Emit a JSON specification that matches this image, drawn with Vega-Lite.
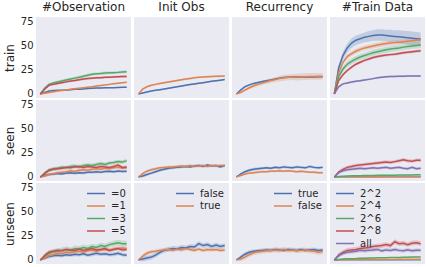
{
"$schema":"https://vega.github.io/schema/vega-lite/v6.json",
"padding":{"left":3,"top":0,"right":0,"bottom":0},
"background":"white",
"config":{
"font":"DejaVu Sans",
"view":{"fill":"#eaeaf2","stroke":null},
"axis":{"grid":false,"ticks":false,"domain":false,"labelColor":"#262626","titleColor":"#262626","labelFontSize":10,"titleFontSize":12,"titleFontWeight":"normal","labelPadding":3,"titlePadding":4},
"title":{"fontSize":12,"fontWeight":"normal","color":"#262626","offset":3},
"legend":{"symbolType":"M-1,0H3","symbolStrokeWidth":1.5,"symbolSize":81,"symbolOpacity":1,"labelFontSize":10,"labelColor":"#262626","padding":0,"rowPadding":1.5,"labelOffset":14,"offset":5}
},
"datasets":{"d":[
{"r":"t","c":"o","s":"=0","x":0,"y":0,"e":0},{"r":"t","c":"o","s":"=0","x":1,"y":1.5,"e":0.6},{"r":"t","c":"o","s":"=0","x":2,"y":3,"e":0.6},{"r":"t","c":"o","s":"=0","x":3,"y":3.5,"e":0.6},{"r":"t","c":"o","s":"=0","x":4,"y":3.8,"e":0.6},{"r":"t","c":"o","s":"=0","x":5,"y":4,"e":0.6},{"r":"t","c":"o","s":"=0","x":6,"y":4.2,"e":0.6},{"r":"t","c":"o","s":"=0","x":7,"y":4.5,"e":0.6},{"r":"t","c":"o","s":"=0","x":8,"y":4.8,"e":0.6},{"r":"t","c":"o","s":"=0","x":9,"y":5,"e":0.6},{"r":"t","c":"o","s":"=0","x":10,"y":5.3,"e":0.6},{"r":"t","c":"o","s":"=0","x":11,"y":5.6,"e":0.6},{"r":"t","c":"o","s":"=0","x":12,"y":6,"e":0.6},{"r":"t","c":"o","s":"=0","x":13,"y":6.2,"e":0.6},{"r":"t","c":"o","s":"=0","x":14,"y":6.3,"e":0.6},{"r":"t","c":"o","s":"=0","x":15,"y":6.4,"e":0.6},{"r":"t","c":"o","s":"=0","x":16,"y":6.5,"e":0.6},{"r":"t","c":"o","s":"=0","x":17,"y":6.6,"e":0.6},{"r":"t","c":"o","s":"=0","x":18,"y":6.8,"e":0.6},{"r":"t","c":"o","s":"=0","x":19,"y":7,"e":0.6},{"r":"t","c":"o","s":"=0","x":20,"y":7,"e":0.6},
{"r":"t","c":"o","s":"=1","x":0,"y":0,"e":0},{"r":"t","c":"o","s":"=1","x":1,"y":0.8,"e":0.8},{"r":"t","c":"o","s":"=1","x":2,"y":1.5,"e":0.8},{"r":"t","c":"o","s":"=1","x":3,"y":2.2,"e":0.8},{"r":"t","c":"o","s":"=1","x":4,"y":3,"e":0.8},{"r":"t","c":"o","s":"=1","x":5,"y":3.6,"e":0.8},{"r":"t","c":"o","s":"=1","x":6,"y":4.2,"e":0.8},{"r":"t","c":"o","s":"=1","x":7,"y":4.8,"e":0.8},{"r":"t","c":"o","s":"=1","x":8,"y":5.4,"e":0.8},{"r":"t","c":"o","s":"=1","x":9,"y":6,"e":0.8},{"r":"t","c":"o","s":"=1","x":10,"y":6.5,"e":0.8},{"r":"t","c":"o","s":"=1","x":11,"y":7,"e":0.8},{"r":"t","c":"o","s":"=1","x":12,"y":7.6,"e":0.8},{"r":"t","c":"o","s":"=1","x":13,"y":8.2,"e":0.8},{"r":"t","c":"o","s":"=1","x":14,"y":8.8,"e":0.8},{"r":"t","c":"o","s":"=1","x":15,"y":9.4,"e":0.8},{"r":"t","c":"o","s":"=1","x":16,"y":10,"e":0.8},{"r":"t","c":"o","s":"=1","x":17,"y":10.6,"e":0.8},{"r":"t","c":"o","s":"=1","x":18,"y":11.2,"e":0.8},{"r":"t","c":"o","s":"=1","x":19,"y":11.8,"e":0.8},{"r":"t","c":"o","s":"=1","x":20,"y":12.3,"e":0.8},
{"r":"t","c":"o","s":"=3","x":0,"y":0,"e":0},{"r":"t","c":"o","s":"=3","x":1,"y":6,"e":1.5},{"r":"t","c":"o","s":"=3","x":2,"y":10,"e":1.5},{"r":"t","c":"o","s":"=3","x":3,"y":11.5,"e":1.5},{"r":"t","c":"o","s":"=3","x":4,"y":12.5,"e":1.5},{"r":"t","c":"o","s":"=3","x":5,"y":13.5,"e":1.5},{"r":"t","c":"o","s":"=3","x":6,"y":14.5,"e":1.5},{"r":"t","c":"o","s":"=3","x":7,"y":15.5,"e":1.5},{"r":"t","c":"o","s":"=3","x":8,"y":16.5,"e":1.5},{"r":"t","c":"o","s":"=3","x":9,"y":17.5,"e":1.5},{"r":"t","c":"o","s":"=3","x":10,"y":18.5,"e":1.5},{"r":"t","c":"o","s":"=3","x":11,"y":19.5,"e":1.5},{"r":"t","c":"o","s":"=3","x":12,"y":20.5,"e":1.5},{"r":"t","c":"o","s":"=3","x":13,"y":21,"e":1.5},{"r":"t","c":"o","s":"=3","x":14,"y":21.3,"e":1.5},{"r":"t","c":"o","s":"=3","x":15,"y":21.8,"e":1.5},{"r":"t","c":"o","s":"=3","x":16,"y":22,"e":1.5},{"r":"t","c":"o","s":"=3","x":17,"y":22.2,"e":1.5},{"r":"t","c":"o","s":"=3","x":18,"y":22.5,"e":1.5},{"r":"t","c":"o","s":"=3","x":19,"y":23,"e":1.5},{"r":"t","c":"o","s":"=3","x":20,"y":23.2,"e":1.5},
{"r":"t","c":"o","s":"=5","x":0,"y":0,"e":0},{"r":"t","c":"o","s":"=5","x":1,"y":5,"e":1.2},{"r":"t","c":"o","s":"=5","x":2,"y":9,"e":1.2},{"r":"t","c":"o","s":"=5","x":3,"y":10,"e":1.2},{"r":"t","c":"o","s":"=5","x":4,"y":11,"e":1.2},{"r":"t","c":"o","s":"=5","x":5,"y":11.8,"e":1.2},{"r":"t","c":"o","s":"=5","x":6,"y":12.6,"e":1.2},{"r":"t","c":"o","s":"=5","x":7,"y":13.4,"e":1.2},{"r":"t","c":"o","s":"=5","x":8,"y":14,"e":1.2},{"r":"t","c":"o","s":"=5","x":9,"y":14.8,"e":1.2},{"r":"t","c":"o","s":"=5","x":10,"y":15.5,"e":1.2},{"r":"t","c":"o","s":"=5","x":11,"y":16,"e":1.2},{"r":"t","c":"o","s":"=5","x":12,"y":16.5,"e":1.2},{"r":"t","c":"o","s":"=5","x":13,"y":16.8,"e":1.2},{"r":"t","c":"o","s":"=5","x":14,"y":17,"e":1.2},{"r":"t","c":"o","s":"=5","x":15,"y":17.3,"e":1.2},{"r":"t","c":"o","s":"=5","x":16,"y":17.5,"e":1.2},{"r":"t","c":"o","s":"=5","x":17,"y":17.8,"e":1.2},{"r":"t","c":"o","s":"=5","x":18,"y":18,"e":1.2},{"r":"t","c":"o","s":"=5","x":19,"y":18.2,"e":1.2},{"r":"t","c":"o","s":"=5","x":20,"y":18.3,"e":1.2},
{"r":"t","c":"i","s":"false","x":0,"y":0,"e":0},{"r":"t","c":"i","s":"false","x":1,"y":1,"e":0.8},{"r":"t","c":"i","s":"false","x":2,"y":2,"e":0.8},{"r":"t","c":"i","s":"false","x":3,"y":3,"e":0.8},{"r":"t","c":"i","s":"false","x":4,"y":3.8,"e":0.8},{"r":"t","c":"i","s":"false","x":5,"y":4.5,"e":0.8},{"r":"t","c":"i","s":"false","x":6,"y":5.2,"e":0.8},{"r":"t","c":"i","s":"false","x":7,"y":6,"e":0.8},{"r":"t","c":"i","s":"false","x":8,"y":6.8,"e":0.8},{"r":"t","c":"i","s":"false","x":9,"y":7.5,"e":0.8},{"r":"t","c":"i","s":"false","x":10,"y":8.3,"e":0.8},{"r":"t","c":"i","s":"false","x":11,"y":9,"e":0.8},{"r":"t","c":"i","s":"false","x":12,"y":9.8,"e":0.8},{"r":"t","c":"i","s":"false","x":13,"y":10.5,"e":0.8},{"r":"t","c":"i","s":"false","x":14,"y":11.2,"e":0.8},{"r":"t","c":"i","s":"false","x":15,"y":11.8,"e":0.8},{"r":"t","c":"i","s":"false","x":16,"y":12.5,"e":0.8},{"r":"t","c":"i","s":"false","x":17,"y":13.2,"e":0.8},{"r":"t","c":"i","s":"false","x":18,"y":13.8,"e":0.8},{"r":"t","c":"i","s":"false","x":19,"y":14.4,"e":0.8},{"r":"t","c":"i","s":"false","x":20,"y":15,"e":0.8},
{"r":"t","c":"i","s":"true","x":0,"y":0,"e":0},{"r":"t","c":"i","s":"true","x":1,"y":5,"e":1},{"r":"t","c":"i","s":"true","x":2,"y":7.5,"e":1},{"r":"t","c":"i","s":"true","x":3,"y":9,"e":1},{"r":"t","c":"i","s":"true","x":4,"y":10,"e":1},{"r":"t","c":"i","s":"true","x":5,"y":11,"e":1},{"r":"t","c":"i","s":"true","x":6,"y":11.8,"e":1},{"r":"t","c":"i","s":"true","x":7,"y":12.5,"e":1},{"r":"t","c":"i","s":"true","x":8,"y":13.2,"e":1},{"r":"t","c":"i","s":"true","x":9,"y":14,"e":1},{"r":"t","c":"i","s":"true","x":10,"y":14.8,"e":1},{"r":"t","c":"i","s":"true","x":11,"y":15.5,"e":1},{"r":"t","c":"i","s":"true","x":12,"y":16.2,"e":1},{"r":"t","c":"i","s":"true","x":13,"y":16.8,"e":1},{"r":"t","c":"i","s":"true","x":14,"y":17.3,"e":1},{"r":"t","c":"i","s":"true","x":15,"y":17.7,"e":1},{"r":"t","c":"i","s":"true","x":16,"y":18,"e":1},{"r":"t","c":"i","s":"true","x":17,"y":18.2,"e":1},{"r":"t","c":"i","s":"true","x":18,"y":18.4,"e":1},{"r":"t","c":"i","s":"true","x":19,"y":18.5,"e":1},{"r":"t","c":"i","s":"true","x":20,"y":18.6,"e":1},
{"r":"t","c":"r","s":"true","x":0,"y":0,"e":0},{"r":"t","c":"r","s":"true","x":1,"y":4,"e":0.8},{"r":"t","c":"r","s":"true","x":2,"y":7.5,"e":0.8},{"r":"t","c":"r","s":"true","x":3,"y":9.5,"e":0.8},{"r":"t","c":"r","s":"true","x":4,"y":11,"e":0.8},{"r":"t","c":"r","s":"true","x":5,"y":12,"e":0.8},{"r":"t","c":"r","s":"true","x":6,"y":13,"e":0.8},{"r":"t","c":"r","s":"true","x":7,"y":13.8,"e":0.8},{"r":"t","c":"r","s":"true","x":8,"y":14.6,"e":0.8},{"r":"t","c":"r","s":"true","x":9,"y":15.5,"e":0.8},{"r":"t","c":"r","s":"true","x":10,"y":16.5,"e":0.8},{"r":"t","c":"r","s":"true","x":11,"y":17.2,"e":0.8},{"r":"t","c":"r","s":"true","x":12,"y":17.5,"e":0.8},{"r":"t","c":"r","s":"true","x":13,"y":17.6,"e":0.8},{"r":"t","c":"r","s":"true","x":14,"y":17.7,"e":0.8},{"r":"t","c":"r","s":"true","x":15,"y":17.7,"e":0.8},{"r":"t","c":"r","s":"true","x":16,"y":17.8,"e":0.8},{"r":"t","c":"r","s":"true","x":17,"y":17.8,"e":0.8},{"r":"t","c":"r","s":"true","x":18,"y":17.8,"e":0.8},{"r":"t","c":"r","s":"true","x":19,"y":17.9,"e":0.8},{"r":"t","c":"r","s":"true","x":20,"y":17.9,"e":0.8},
{"r":"t","c":"r","s":"false","x":0,"y":0,"e":0.3},{"r":"t","c":"r","s":"false","x":1,"y":1.5,"e":1},{"r":"t","c":"r","s":"false","x":2,"y":4,"e":1.5},{"r":"t","c":"r","s":"false","x":3,"y":6.5,"e":1.5},{"r":"t","c":"r","s":"false","x":4,"y":8.5,"e":2},{"r":"t","c":"r","s":"false","x":5,"y":10,"e":2},{"r":"t","c":"r","s":"false","x":6,"y":11.5,"e":2},{"r":"t","c":"r","s":"false","x":7,"y":12.8,"e":2.5},{"r":"t","c":"r","s":"false","x":8,"y":14,"e":2.5},{"r":"t","c":"r","s":"false","x":9,"y":15,"e":2.5},{"r":"t","c":"r","s":"false","x":10,"y":16,"e":3},{"r":"t","c":"r","s":"false","x":11,"y":16.8,"e":3},{"r":"t","c":"r","s":"false","x":12,"y":17.3,"e":3},{"r":"t","c":"r","s":"false","x":13,"y":17.5,"e":3},{"r":"t","c":"r","s":"false","x":14,"y":17.6,"e":3.5},{"r":"t","c":"r","s":"false","x":15,"y":17.8,"e":3.5},{"r":"t","c":"r","s":"false","x":16,"y":18,"e":3.5},{"r":"t","c":"r","s":"false","x":17,"y":18.2,"e":3.5},{"r":"t","c":"r","s":"false","x":18,"y":18.3,"e":3.5},{"r":"t","c":"r","s":"false","x":19,"y":18.4,"e":3.5},{"r":"t","c":"r","s":"false","x":20,"y":18.5,"e":3.5},
{"r":"t","c":"d","s":"2^2","x":0,"y":0,"e":0.5},{"r":"t","c":"d","s":"2^2","x":1,"y":27,"e":3},{"r":"t","c":"d","s":"2^2","x":2,"y":40,"e":4},{"r":"t","c":"d","s":"2^2","x":3,"y":48,"e":4.5},{"r":"t","c":"d","s":"2^2","x":4,"y":53,"e":5},{"r":"t","c":"d","s":"2^2","x":5,"y":56,"e":5},{"r":"t","c":"d","s":"2^2","x":6,"y":57.5,"e":5},{"r":"t","c":"d","s":"2^2","x":7,"y":59,"e":5},{"r":"t","c":"d","s":"2^2","x":8,"y":60,"e":5.5},{"r":"t","c":"d","s":"2^2","x":9,"y":61,"e":5.5},{"r":"t","c":"d","s":"2^2","x":10,"y":61.5,"e":6},{"r":"t","c":"d","s":"2^2","x":11,"y":61.5,"e":6},{"r":"t","c":"d","s":"2^2","x":12,"y":61,"e":6},{"r":"t","c":"d","s":"2^2","x":13,"y":60.5,"e":6.5},{"r":"t","c":"d","s":"2^2","x":14,"y":60,"e":6.5},{"r":"t","c":"d","s":"2^2","x":15,"y":59.5,"e":7},{"r":"t","c":"d","s":"2^2","x":16,"y":59,"e":7},{"r":"t","c":"d","s":"2^2","x":17,"y":58.5,"e":7},{"r":"t","c":"d","s":"2^2","x":18,"y":58,"e":7},{"r":"t","c":"d","s":"2^2","x":19,"y":57.5,"e":7},{"r":"t","c":"d","s":"2^2","x":20,"y":57,"e":7},
{"r":"t","c":"d","s":"2^4","x":0,"y":0,"e":0.5},{"r":"t","c":"d","s":"2^4","x":1,"y":22,"e":2.5},{"r":"t","c":"d","s":"2^4","x":2,"y":33,"e":2.5},{"r":"t","c":"d","s":"2^4","x":3,"y":39,"e":2.5},{"r":"t","c":"d","s":"2^4","x":4,"y":42,"e":2.5},{"r":"t","c":"d","s":"2^4","x":5,"y":44.5,"e":2.5},{"r":"t","c":"d","s":"2^4","x":6,"y":46.5,"e":2.5},{"r":"t","c":"d","s":"2^4","x":7,"y":48,"e":2.5},{"r":"t","c":"d","s":"2^4","x":8,"y":49,"e":2.5},{"r":"t","c":"d","s":"2^4","x":9,"y":50,"e":2.5},{"r":"t","c":"d","s":"2^4","x":10,"y":51,"e":2.5},{"r":"t","c":"d","s":"2^4","x":11,"y":51.8,"e":2.5},{"r":"t","c":"d","s":"2^4","x":12,"y":52.5,"e":2.5},{"r":"t","c":"d","s":"2^4","x":13,"y":53,"e":2.5},{"r":"t","c":"d","s":"2^4","x":14,"y":53.5,"e":2.5},{"r":"t","c":"d","s":"2^4","x":15,"y":54,"e":2.5},{"r":"t","c":"d","s":"2^4","x":16,"y":54.5,"e":2.5},{"r":"t","c":"d","s":"2^4","x":17,"y":55,"e":2.5},{"r":"t","c":"d","s":"2^4","x":18,"y":55.5,"e":2.5},{"r":"t","c":"d","s":"2^4","x":19,"y":56,"e":2.5},{"r":"t","c":"d","s":"2^4","x":20,"y":56.3,"e":2.5},
{"r":"t","c":"d","s":"2^6","x":0,"y":0,"e":0.5},{"r":"t","c":"d","s":"2^6","x":1,"y":18,"e":3},{"r":"t","c":"d","s":"2^6","x":2,"y":26,"e":3},{"r":"t","c":"d","s":"2^6","x":3,"y":31,"e":3},{"r":"t","c":"d","s":"2^6","x":4,"y":34,"e":3},{"r":"t","c":"d","s":"2^6","x":5,"y":36.5,"e":3},{"r":"t","c":"d","s":"2^6","x":6,"y":38.5,"e":3},{"r":"t","c":"d","s":"2^6","x":7,"y":40,"e":3},{"r":"t","c":"d","s":"2^6","x":8,"y":41.5,"e":3},{"r":"t","c":"d","s":"2^6","x":9,"y":43,"e":3},{"r":"t","c":"d","s":"2^6","x":10,"y":44,"e":3},{"r":"t","c":"d","s":"2^6","x":11,"y":45,"e":3},{"r":"t","c":"d","s":"2^6","x":12,"y":46,"e":3},{"r":"t","c":"d","s":"2^6","x":13,"y":46.8,"e":3},{"r":"t","c":"d","s":"2^6","x":14,"y":47.5,"e":3},{"r":"t","c":"d","s":"2^6","x":15,"y":48,"e":3},{"r":"t","c":"d","s":"2^6","x":16,"y":48.8,"e":3},{"r":"t","c":"d","s":"2^6","x":17,"y":49.5,"e":3},{"r":"t","c":"d","s":"2^6","x":18,"y":50,"e":3},{"r":"t","c":"d","s":"2^6","x":19,"y":50.5,"e":3},{"r":"t","c":"d","s":"2^6","x":20,"y":51,"e":3},
{"r":"t","c":"d","s":"2^8","x":0,"y":0,"e":0.5},{"r":"t","c":"d","s":"2^8","x":1,"y":14,"e":1.5},{"r":"t","c":"d","s":"2^8","x":2,"y":20,"e":1.5},{"r":"t","c":"d","s":"2^8","x":3,"y":24.5,"e":1.5},{"r":"t","c":"d","s":"2^8","x":4,"y":28,"e":1.5},{"r":"t","c":"d","s":"2^8","x":5,"y":31,"e":1.5},{"r":"t","c":"d","s":"2^8","x":6,"y":33,"e":1.5},{"r":"t","c":"d","s":"2^8","x":7,"y":35,"e":1.5},{"r":"t","c":"d","s":"2^8","x":8,"y":36.5,"e":1.5},{"r":"t","c":"d","s":"2^8","x":9,"y":38,"e":1.5},{"r":"t","c":"d","s":"2^8","x":10,"y":39,"e":1.5},{"r":"t","c":"d","s":"2^8","x":11,"y":39.8,"e":1.5},{"r":"t","c":"d","s":"2^8","x":12,"y":40.5,"e":1.5},{"r":"t","c":"d","s":"2^8","x":13,"y":41,"e":1.5},{"r":"t","c":"d","s":"2^8","x":14,"y":41.5,"e":1.5},{"r":"t","c":"d","s":"2^8","x":15,"y":42.2,"e":1.5},{"r":"t","c":"d","s":"2^8","x":16,"y":43,"e":1.5},{"r":"t","c":"d","s":"2^8","x":17,"y":43.5,"e":1.5},{"r":"t","c":"d","s":"2^8","x":18,"y":44,"e":1.5},{"r":"t","c":"d","s":"2^8","x":19,"y":44.5,"e":1.5},{"r":"t","c":"d","s":"2^8","x":20,"y":45,"e":1.5},
{"r":"t","c":"d","s":"all","x":0,"y":0,"e":0.3},{"r":"t","c":"d","s":"all","x":1,"y":7.5,"e":1},{"r":"t","c":"d","s":"all","x":2,"y":10.5,"e":1},{"r":"t","c":"d","s":"all","x":3,"y":11.5,"e":1},{"r":"t","c":"d","s":"all","x":4,"y":12.5,"e":1},{"r":"t","c":"d","s":"all","x":5,"y":13.2,"e":1},{"r":"t","c":"d","s":"all","x":6,"y":13.8,"e":1},{"r":"t","c":"d","s":"all","x":7,"y":14.5,"e":1},{"r":"t","c":"d","s":"all","x":8,"y":15.2,"e":1},{"r":"t","c":"d","s":"all","x":9,"y":16,"e":1},{"r":"t","c":"d","s":"all","x":10,"y":17,"e":1},{"r":"t","c":"d","s":"all","x":11,"y":17.5,"e":1},{"r":"t","c":"d","s":"all","x":12,"y":18,"e":1},{"r":"t","c":"d","s":"all","x":13,"y":18.2,"e":1},{"r":"t","c":"d","s":"all","x":14,"y":18.3,"e":1},{"r":"t","c":"d","s":"all","x":15,"y":18.4,"e":1},{"r":"t","c":"d","s":"all","x":16,"y":18.5,"e":1},{"r":"t","c":"d","s":"all","x":17,"y":18.6,"e":1},{"r":"t","c":"d","s":"all","x":18,"y":18.6,"e":1},{"r":"t","c":"d","s":"all","x":19,"y":18.7,"e":1},{"r":"t","c":"d","s":"all","x":20,"y":18.7,"e":1},
{"r":"s","c":"o","s":"=0","x":0,"y":0,"e":0},{"r":"s","c":"o","s":"=0","x":1,"y":1.5,"e":1.5},{"r":"s","c":"o","s":"=0","x":2,"y":2.5,"e":1.5},{"r":"s","c":"o","s":"=0","x":3,"y":3,"e":1.5},{"r":"s","c":"o","s":"=0","x":4,"y":3.5,"e":1.5},{"r":"s","c":"o","s":"=0","x":5,"y":3.2,"e":1.5},{"r":"s","c":"o","s":"=0","x":6,"y":4,"e":1.5},{"r":"s","c":"o","s":"=0","x":7,"y":4.3,"e":1.5},{"r":"s","c":"o","s":"=0","x":8,"y":3.8,"e":1.5},{"r":"s","c":"o","s":"=0","x":9,"y":4.5,"e":1.5},{"r":"s","c":"o","s":"=0","x":10,"y":4.2,"e":1.5},{"r":"s","c":"o","s":"=0","x":11,"y":5,"e":1.5},{"r":"s","c":"o","s":"=0","x":12,"y":4.8,"e":1.5},{"r":"s","c":"o","s":"=0","x":13,"y":5.5,"e":1.5},{"r":"s","c":"o","s":"=0","x":14,"y":5,"e":1.5},{"r":"s","c":"o","s":"=0","x":15,"y":5.8,"e":1.5},{"r":"s","c":"o","s":"=0","x":16,"y":6,"e":1.5},{"r":"s","c":"o","s":"=0","x":17,"y":5.5,"e":1.5},{"r":"s","c":"o","s":"=0","x":18,"y":6.2,"e":1.5},{"r":"s","c":"o","s":"=0","x":19,"y":5.8,"e":1.5},{"r":"s","c":"o","s":"=0","x":20,"y":6,"e":1.5},
{"r":"s","c":"o","s":"=1","x":0,"y":0,"e":0},{"r":"s","c":"o","s":"=1","x":1,"y":1,"e":1.5},{"r":"s","c":"o","s":"=1","x":2,"y":2.5,"e":1.5},{"r":"s","c":"o","s":"=1","x":3,"y":3.5,"e":1.5},{"r":"s","c":"o","s":"=1","x":4,"y":4.5,"e":1.5},{"r":"s","c":"o","s":"=1","x":5,"y":5,"e":1.5},{"r":"s","c":"o","s":"=1","x":6,"y":5.5,"e":1.5},{"r":"s","c":"o","s":"=1","x":7,"y":6.5,"e":1.5},{"r":"s","c":"o","s":"=1","x":8,"y":6,"e":1.5},{"r":"s","c":"o","s":"=1","x":9,"y":7,"e":1.5},{"r":"s","c":"o","s":"=1","x":10,"y":7.5,"e":1.5},{"r":"s","c":"o","s":"=1","x":11,"y":7,"e":1.5},{"r":"s","c":"o","s":"=1","x":12,"y":8,"e":1.5},{"r":"s","c":"o","s":"=1","x":13,"y":8.5,"e":1.5},{"r":"s","c":"o","s":"=1","x":14,"y":8,"e":1.5},{"r":"s","c":"o","s":"=1","x":15,"y":9,"e":1.5},{"r":"s","c":"o","s":"=1","x":16,"y":8.5,"e":1.5},{"r":"s","c":"o","s":"=1","x":17,"y":9.5,"e":1.5},{"r":"s","c":"o","s":"=1","x":18,"y":10,"e":1.5},{"r":"s","c":"o","s":"=1","x":19,"y":9,"e":1.5},{"r":"s","c":"o","s":"=1","x":20,"y":9.5,"e":1.5},
{"r":"s","c":"o","s":"=3","x":0,"y":0,"e":0},{"r":"s","c":"o","s":"=3","x":1,"y":4,"e":2},{"r":"s","c":"o","s":"=3","x":2,"y":7,"e":2},{"r":"s","c":"o","s":"=3","x":3,"y":8.5,"e":2},{"r":"s","c":"o","s":"=3","x":4,"y":9,"e":2},{"r":"s","c":"o","s":"=3","x":5,"y":10,"e":2},{"r":"s","c":"o","s":"=3","x":6,"y":9.5,"e":2},{"r":"s","c":"o","s":"=3","x":7,"y":11,"e":2},{"r":"s","c":"o","s":"=3","x":8,"y":11.5,"e":2},{"r":"s","c":"o","s":"=3","x":9,"y":10.5,"e":2},{"r":"s","c":"o","s":"=3","x":10,"y":12,"e":2},{"r":"s","c":"o","s":"=3","x":11,"y":12.5,"e":2},{"r":"s","c":"o","s":"=3","x":12,"y":12,"e":2},{"r":"s","c":"o","s":"=3","x":13,"y":13,"e":2},{"r":"s","c":"o","s":"=3","x":14,"y":14,"e":2},{"r":"s","c":"o","s":"=3","x":15,"y":13,"e":2},{"r":"s","c":"o","s":"=3","x":16,"y":14.5,"e":2},{"r":"s","c":"o","s":"=3","x":17,"y":15,"e":2},{"r":"s","c":"o","s":"=3","x":18,"y":16,"e":2},{"r":"s","c":"o","s":"=3","x":19,"y":15.5,"e":2},{"r":"s","c":"o","s":"=3","x":20,"y":17,"e":2},
{"r":"s","c":"o","s":"=5","x":0,"y":0,"e":0},{"r":"s","c":"o","s":"=5","x":1,"y":3.5,"e":1.8},{"r":"s","c":"o","s":"=5","x":2,"y":7,"e":1.8},{"r":"s","c":"o","s":"=5","x":3,"y":8,"e":1.8},{"r":"s","c":"o","s":"=5","x":4,"y":8.5,"e":1.8},{"r":"s","c":"o","s":"=5","x":5,"y":9,"e":1.8},{"r":"s","c":"o","s":"=5","x":6,"y":10,"e":1.8},{"r":"s","c":"o","s":"=5","x":7,"y":9.5,"e":1.8},{"r":"s","c":"o","s":"=5","x":8,"y":10.5,"e":1.8},{"r":"s","c":"o","s":"=5","x":9,"y":11,"e":1.8},{"r":"s","c":"o","s":"=5","x":10,"y":10,"e":1.8},{"r":"s","c":"o","s":"=5","x":11,"y":11,"e":1.8},{"r":"s","c":"o","s":"=5","x":12,"y":10.5,"e":1.8},{"r":"s","c":"o","s":"=5","x":13,"y":10,"e":1.8},{"r":"s","c":"o","s":"=5","x":14,"y":11,"e":1.8},{"r":"s","c":"o","s":"=5","x":15,"y":10.5,"e":1.8},{"r":"s","c":"o","s":"=5","x":16,"y":10,"e":1.8},{"r":"s","c":"o","s":"=5","x":17,"y":11,"e":1.8},{"r":"s","c":"o","s":"=5","x":18,"y":12.5,"e":1.8},{"r":"s","c":"o","s":"=5","x":19,"y":10,"e":1.8},{"r":"s","c":"o","s":"=5","x":20,"y":10.5,"e":1.8},
{"r":"s","c":"i","s":"false","x":0,"y":0,"e":0},{"r":"s","c":"i","s":"false","x":1,"y":1,"e":1.5},{"r":"s","c":"i","s":"false","x":2,"y":2.5,"e":1.5},{"r":"s","c":"i","s":"false","x":3,"y":4,"e":1.5},{"r":"s","c":"i","s":"false","x":4,"y":5.5,"e":1.5},{"r":"s","c":"i","s":"false","x":5,"y":7,"e":1.5},{"r":"s","c":"i","s":"false","x":6,"y":8,"e":1.5},{"r":"s","c":"i","s":"false","x":7,"y":9,"e":1.5},{"r":"s","c":"i","s":"false","x":8,"y":9.5,"e":1.5},{"r":"s","c":"i","s":"false","x":9,"y":10,"e":1.5},{"r":"s","c":"i","s":"false","x":10,"y":10.5,"e":1.5},{"r":"s","c":"i","s":"false","x":11,"y":11,"e":1.5},{"r":"s","c":"i","s":"false","x":12,"y":10.5,"e":1.5},{"r":"s","c":"i","s":"false","x":13,"y":11.5,"e":1.5},{"r":"s","c":"i","s":"false","x":14,"y":12,"e":1.5},{"r":"s","c":"i","s":"false","x":15,"y":11,"e":1.5},{"r":"s","c":"i","s":"false","x":16,"y":12.5,"e":1.5},{"r":"s","c":"i","s":"false","x":17,"y":11.5,"e":1.5},{"r":"s","c":"i","s":"false","x":18,"y":12,"e":1.5},{"r":"s","c":"i","s":"false","x":19,"y":10.5,"e":1.5},{"r":"s","c":"i","s":"false","x":20,"y":12,"e":1.5},
{"r":"s","c":"i","s":"true","x":0,"y":0,"e":0},{"r":"s","c":"i","s":"true","x":1,"y":3.5,"e":1.5},{"r":"s","c":"i","s":"true","x":2,"y":6,"e":1.5},{"r":"s","c":"i","s":"true","x":3,"y":7.5,"e":1.5},{"r":"s","c":"i","s":"true","x":4,"y":8.5,"e":1.5},{"r":"s","c":"i","s":"true","x":5,"y":9.5,"e":1.5},{"r":"s","c":"i","s":"true","x":6,"y":10,"e":1.5},{"r":"s","c":"i","s":"true","x":7,"y":10.5,"e":1.5},{"r":"s","c":"i","s":"true","x":8,"y":10.5,"e":1.5},{"r":"s","c":"i","s":"true","x":9,"y":11,"e":1.5},{"r":"s","c":"i","s":"true","x":10,"y":11.5,"e":1.5},{"r":"s","c":"i","s":"true","x":11,"y":11,"e":1.5},{"r":"s","c":"i","s":"true","x":12,"y":12,"e":1.5},{"r":"s","c":"i","s":"true","x":13,"y":11,"e":1.5},{"r":"s","c":"i","s":"true","x":14,"y":11.5,"e":1.5},{"r":"s","c":"i","s":"true","x":15,"y":12,"e":1.5},{"r":"s","c":"i","s":"true","x":16,"y":11,"e":1.5},{"r":"s","c":"i","s":"true","x":17,"y":12,"e":1.5},{"r":"s","c":"i","s":"true","x":18,"y":11.5,"e":1.5},{"r":"s","c":"i","s":"true","x":19,"y":12,"e":1.5},{"r":"s","c":"i","s":"true","x":20,"y":12,"e":1.5},
{"r":"s","c":"r","s":"true","x":0,"y":0,"e":0},{"r":"s","c":"r","s":"true","x":1,"y":3,"e":1.5},{"r":"s","c":"r","s":"true","x":2,"y":5.5,"e":1.5},{"r":"s","c":"r","s":"true","x":3,"y":7,"e":1.5},{"r":"s","c":"r","s":"true","x":4,"y":8,"e":1.5},{"r":"s","c":"r","s":"true","x":5,"y":8.5,"e":1.5},{"r":"s","c":"r","s":"true","x":6,"y":9,"e":1.5},{"r":"s","c":"r","s":"true","x":7,"y":9.5,"e":1.5},{"r":"s","c":"r","s":"true","x":8,"y":9,"e":1.5},{"r":"s","c":"r","s":"true","x":9,"y":10,"e":1.5},{"r":"s","c":"r","s":"true","x":10,"y":9.5,"e":1.5},{"r":"s","c":"r","s":"true","x":11,"y":10.5,"e":1.5},{"r":"s","c":"r","s":"true","x":12,"y":10,"e":1.5},{"r":"s","c":"r","s":"true","x":13,"y":9.5,"e":1.5},{"r":"s","c":"r","s":"true","x":14,"y":10.5,"e":1.5},{"r":"s","c":"r","s":"true","x":15,"y":10,"e":1.5},{"r":"s","c":"r","s":"true","x":16,"y":9.5,"e":1.5},{"r":"s","c":"r","s":"true","x":17,"y":11,"e":1.5},{"r":"s","c":"r","s":"true","x":18,"y":10,"e":1.5},{"r":"s","c":"r","s":"true","x":19,"y":9.5,"e":1.5},{"r":"s","c":"r","s":"true","x":20,"y":10,"e":1.5},
{"r":"s","c":"r","s":"false","x":0,"y":0,"e":0},{"r":"s","c":"r","s":"false","x":1,"y":1.5,"e":1.2},{"r":"s","c":"r","s":"false","x":2,"y":3,"e":1.2},{"r":"s","c":"r","s":"false","x":3,"y":4,"e":1.2},{"r":"s","c":"r","s":"false","x":4,"y":4.5,"e":1.2},{"r":"s","c":"r","s":"false","x":5,"y":5,"e":1.2},{"r":"s","c":"r","s":"false","x":6,"y":5.5,"e":1.2},{"r":"s","c":"r","s":"false","x":7,"y":5.5,"e":1.2},{"r":"s","c":"r","s":"false","x":8,"y":6,"e":1.2},{"r":"s","c":"r","s":"false","x":9,"y":6,"e":1.2},{"r":"s","c":"r","s":"false","x":10,"y":6.5,"e":1.2},{"r":"s","c":"r","s":"false","x":11,"y":6,"e":1.2},{"r":"s","c":"r","s":"false","x":12,"y":6.5,"e":1.2},{"r":"s","c":"r","s":"false","x":13,"y":6,"e":1.2},{"r":"s","c":"r","s":"false","x":14,"y":5.5,"e":1.2},{"r":"s","c":"r","s":"false","x":15,"y":6,"e":1.2},{"r":"s","c":"r","s":"false","x":16,"y":5.5,"e":1.2},{"r":"s","c":"r","s":"false","x":17,"y":5,"e":1.2},{"r":"s","c":"r","s":"false","x":18,"y":5,"e":1.2},{"r":"s","c":"r","s":"false","x":19,"y":4.5,"e":1.2},{"r":"s","c":"r","s":"false","x":20,"y":4.5,"e":1.2},
{"r":"s","c":"d","s":"2^2","x":0,"y":0,"e":0},{"r":"s","c":"d","s":"2^2","x":1,"y":0.1,"e":0.1},{"r":"s","c":"d","s":"2^2","x":2,"y":0.1,"e":0.1},{"r":"s","c":"d","s":"2^2","x":3,"y":0.1,"e":0.1},{"r":"s","c":"d","s":"2^2","x":4,"y":0.1,"e":0.1},{"r":"s","c":"d","s":"2^2","x":5,"y":0.1,"e":0.1},{"r":"s","c":"d","s":"2^2","x":6,"y":0.1,"e":0.1},{"r":"s","c":"d","s":"2^2","x":7,"y":0.1,"e":0.1},{"r":"s","c":"d","s":"2^2","x":8,"y":0.1,"e":0.1},{"r":"s","c":"d","s":"2^2","x":9,"y":0.1,"e":0.1},{"r":"s","c":"d","s":"2^2","x":10,"y":0.1,"e":0.1},{"r":"s","c":"d","s":"2^2","x":11,"y":0.1,"e":0.1},{"r":"s","c":"d","s":"2^2","x":12,"y":0.1,"e":0.1},{"r":"s","c":"d","s":"2^2","x":13,"y":0.1,"e":0.1},{"r":"s","c":"d","s":"2^2","x":14,"y":0.1,"e":0.1},{"r":"s","c":"d","s":"2^2","x":15,"y":0.1,"e":0.1},{"r":"s","c":"d","s":"2^2","x":16,"y":0.1,"e":0.1},{"r":"s","c":"d","s":"2^2","x":17,"y":0.1,"e":0.1},{"r":"s","c":"d","s":"2^2","x":18,"y":0.1,"e":0.1},{"r":"s","c":"d","s":"2^2","x":19,"y":0.1,"e":0.1},{"r":"s","c":"d","s":"2^2","x":20,"y":0.1,"e":0.1},
{"r":"s","c":"d","s":"2^4","x":0,"y":0,"e":0},{"r":"s","c":"d","s":"2^4","x":1,"y":0.1,"e":0.2},{"r":"s","c":"d","s":"2^4","x":2,"y":0.2,"e":0.2},{"r":"s","c":"d","s":"2^4","x":3,"y":0.2,"e":0.2},{"r":"s","c":"d","s":"2^4","x":4,"y":0.2,"e":0.2},{"r":"s","c":"d","s":"2^4","x":5,"y":0.3,"e":0.2},{"r":"s","c":"d","s":"2^4","x":6,"y":0.3,"e":0.2},{"r":"s","c":"d","s":"2^4","x":7,"y":0.3,"e":0.2},{"r":"s","c":"d","s":"2^4","x":8,"y":0.3,"e":0.2},{"r":"s","c":"d","s":"2^4","x":9,"y":0.3,"e":0.2},{"r":"s","c":"d","s":"2^4","x":10,"y":0.3,"e":0.2},{"r":"s","c":"d","s":"2^4","x":11,"y":0.3,"e":0.2},{"r":"s","c":"d","s":"2^4","x":12,"y":0.4,"e":0.2},{"r":"s","c":"d","s":"2^4","x":13,"y":0.4,"e":0.2},{"r":"s","c":"d","s":"2^4","x":14,"y":0.4,"e":0.2},{"r":"s","c":"d","s":"2^4","x":15,"y":0.4,"e":0.2},{"r":"s","c":"d","s":"2^4","x":16,"y":0.4,"e":0.2},{"r":"s","c":"d","s":"2^4","x":17,"y":0.4,"e":0.2},{"r":"s","c":"d","s":"2^4","x":18,"y":0.4,"e":0.2},{"r":"s","c":"d","s":"2^4","x":19,"y":0.4,"e":0.2},{"r":"s","c":"d","s":"2^4","x":20,"y":0.4,"e":0.2},
{"r":"s","c":"d","s":"2^6","x":0,"y":0,"e":0},{"r":"s","c":"d","s":"2^6","x":1,"y":0.5,"e":0.4},{"r":"s","c":"d","s":"2^6","x":2,"y":0.8,"e":0.4},{"r":"s","c":"d","s":"2^6","x":3,"y":1,"e":0.4},{"r":"s","c":"d","s":"2^6","x":4,"y":1.2,"e":0.4},{"r":"s","c":"d","s":"2^6","x":5,"y":1.3,"e":0.4},{"r":"s","c":"d","s":"2^6","x":6,"y":1.4,"e":0.4},{"r":"s","c":"d","s":"2^6","x":7,"y":1.5,"e":0.4},{"r":"s","c":"d","s":"2^6","x":8,"y":1.6,"e":0.4},{"r":"s","c":"d","s":"2^6","x":9,"y":1.6,"e":0.4},{"r":"s","c":"d","s":"2^6","x":10,"y":1.7,"e":0.4},{"r":"s","c":"d","s":"2^6","x":11,"y":1.8,"e":0.4},{"r":"s","c":"d","s":"2^6","x":12,"y":1.8,"e":0.4},{"r":"s","c":"d","s":"2^6","x":13,"y":1.9,"e":0.4},{"r":"s","c":"d","s":"2^6","x":14,"y":1.9,"e":0.4},{"r":"s","c":"d","s":"2^6","x":15,"y":2,"e":0.4},{"r":"s","c":"d","s":"2^6","x":16,"y":2,"e":0.4},{"r":"s","c":"d","s":"2^6","x":17,"y":2.1,"e":0.4},{"r":"s","c":"d","s":"2^6","x":18,"y":2.1,"e":0.4},{"r":"s","c":"d","s":"2^6","x":19,"y":2.2,"e":0.4},{"r":"s","c":"d","s":"2^6","x":20,"y":2.2,"e":0.4},
{"r":"s","c":"d","s":"2^8","x":0,"y":0,"e":0},{"r":"s","c":"d","s":"2^8","x":1,"y":5,"e":1.8},{"r":"s","c":"d","s":"2^8","x":2,"y":8,"e":1.8},{"r":"s","c":"d","s":"2^8","x":3,"y":10,"e":1.8},{"r":"s","c":"d","s":"2^8","x":4,"y":11,"e":1.8},{"r":"s","c":"d","s":"2^8","x":5,"y":12,"e":1.8},{"r":"s","c":"d","s":"2^8","x":6,"y":12.5,"e":1.8},{"r":"s","c":"d","s":"2^8","x":7,"y":13,"e":1.8},{"r":"s","c":"d","s":"2^8","x":8,"y":13.5,"e":1.8},{"r":"s","c":"d","s":"2^8","x":9,"y":14,"e":1.8},{"r":"s","c":"d","s":"2^8","x":10,"y":14.5,"e":1.8},{"r":"s","c":"d","s":"2^8","x":11,"y":15,"e":1.8},{"r":"s","c":"d","s":"2^8","x":12,"y":15.5,"e":1.8},{"r":"s","c":"d","s":"2^8","x":13,"y":15,"e":1.8},{"r":"s","c":"d","s":"2^8","x":14,"y":16,"e":1.8},{"r":"s","c":"d","s":"2^8","x":15,"y":17,"e":1.8},{"r":"s","c":"d","s":"2^8","x":16,"y":18,"e":1.8},{"r":"s","c":"d","s":"2^8","x":17,"y":17,"e":1.8},{"r":"s","c":"d","s":"2^8","x":18,"y":16.5,"e":1.8},{"r":"s","c":"d","s":"2^8","x":19,"y":17.5,"e":1.8},{"r":"s","c":"d","s":"2^8","x":20,"y":17.5,"e":1.8},
{"r":"s","c":"d","s":"all","x":0,"y":0,"e":0},{"r":"s","c":"d","s":"all","x":1,"y":4.5,"e":1.5},{"r":"s","c":"d","s":"all","x":2,"y":6.5,"e":1.5},{"r":"s","c":"d","s":"all","x":3,"y":7.5,"e":1.5},{"r":"s","c":"d","s":"all","x":4,"y":8,"e":1.5},{"r":"s","c":"d","s":"all","x":5,"y":8.5,"e":1.5},{"r":"s","c":"d","s":"all","x":6,"y":9,"e":1.5},{"r":"s","c":"d","s":"all","x":7,"y":8.5,"e":1.5},{"r":"s","c":"d","s":"all","x":8,"y":9,"e":1.5},{"r":"s","c":"d","s":"all","x":9,"y":9.5,"e":1.5},{"r":"s","c":"d","s":"all","x":10,"y":9,"e":1.5},{"r":"s","c":"d","s":"all","x":11,"y":9.5,"e":1.5},{"r":"s","c":"d","s":"all","x":12,"y":10,"e":1.5},{"r":"s","c":"d","s":"all","x":13,"y":9,"e":1.5},{"r":"s","c":"d","s":"all","x":14,"y":9.5,"e":1.5},{"r":"s","c":"d","s":"all","x":15,"y":10,"e":1.5},{"r":"s","c":"d","s":"all","x":16,"y":9,"e":1.5},{"r":"s","c":"d","s":"all","x":17,"y":8.5,"e":1.5},{"r":"s","c":"d","s":"all","x":18,"y":10,"e":1.5},{"r":"s","c":"d","s":"all","x":19,"y":8.5,"e":1.5},{"r":"s","c":"d","s":"all","x":20,"y":9,"e":1.5},
{"r":"u","c":"o","s":"=0","x":0,"y":0,"e":0},{"r":"u","c":"o","s":"=0","x":1,"y":2,"e":2},{"r":"u","c":"o","s":"=0","x":2,"y":3.5,"e":2},{"r":"u","c":"o","s":"=0","x":3,"y":4.5,"e":2},{"r":"u","c":"o","s":"=0","x":4,"y":5,"e":2},{"r":"u","c":"o","s":"=0","x":5,"y":4.5,"e":2},{"r":"u","c":"o","s":"=0","x":6,"y":5.5,"e":2},{"r":"u","c":"o","s":"=0","x":7,"y":5,"e":2},{"r":"u","c":"o","s":"=0","x":8,"y":6,"e":2},{"r":"u","c":"o","s":"=0","x":9,"y":5.5,"e":2},{"r":"u","c":"o","s":"=0","x":10,"y":6.5,"e":2},{"r":"u","c":"o","s":"=0","x":11,"y":5,"e":2},{"r":"u","c":"o","s":"=0","x":12,"y":6,"e":2},{"r":"u","c":"o","s":"=0","x":13,"y":7,"e":2},{"r":"u","c":"o","s":"=0","x":14,"y":6,"e":2},{"r":"u","c":"o","s":"=0","x":15,"y":6.5,"e":2},{"r":"u","c":"o","s":"=0","x":16,"y":5.5,"e":2},{"r":"u","c":"o","s":"=0","x":17,"y":6,"e":2},{"r":"u","c":"o","s":"=0","x":18,"y":7,"e":2},{"r":"u","c":"o","s":"=0","x":19,"y":5.5,"e":2},{"r":"u","c":"o","s":"=0","x":20,"y":5,"e":2},
{"r":"u","c":"o","s":"=1","x":0,"y":0,"e":0},{"r":"u","c":"o","s":"=1","x":1,"y":2,"e":2},{"r":"u","c":"o","s":"=1","x":2,"y":4.5,"e":2},{"r":"u","c":"o","s":"=1","x":3,"y":5.5,"e":2},{"r":"u","c":"o","s":"=1","x":4,"y":7,"e":2},{"r":"u","c":"o","s":"=1","x":5,"y":6.5,"e":2},{"r":"u","c":"o","s":"=1","x":6,"y":8,"e":2},{"r":"u","c":"o","s":"=1","x":7,"y":7.5,"e":2},{"r":"u","c":"o","s":"=1","x":8,"y":8.5,"e":2},{"r":"u","c":"o","s":"=1","x":9,"y":9,"e":2},{"r":"u","c":"o","s":"=1","x":10,"y":8,"e":2},{"r":"u","c":"o","s":"=1","x":11,"y":9.5,"e":2},{"r":"u","c":"o","s":"=1","x":12,"y":10,"e":2},{"r":"u","c":"o","s":"=1","x":13,"y":9,"e":2},{"r":"u","c":"o","s":"=1","x":14,"y":10.5,"e":2},{"r":"u","c":"o","s":"=1","x":15,"y":11,"e":2},{"r":"u","c":"o","s":"=1","x":16,"y":10,"e":2},{"r":"u","c":"o","s":"=1","x":17,"y":11.5,"e":2},{"r":"u","c":"o","s":"=1","x":18,"y":12,"e":2},{"r":"u","c":"o","s":"=1","x":19,"y":12.5,"e":2},{"r":"u","c":"o","s":"=1","x":20,"y":12,"e":2},
{"r":"u","c":"o","s":"=3","x":0,"y":0,"e":0},{"r":"u","c":"o","s":"=3","x":1,"y":4,"e":3},{"r":"u","c":"o","s":"=3","x":2,"y":7,"e":3},{"r":"u","c":"o","s":"=3","x":3,"y":8.5,"e":3},{"r":"u","c":"o","s":"=3","x":4,"y":9,"e":3},{"r":"u","c":"o","s":"=3","x":5,"y":10,"e":3},{"r":"u","c":"o","s":"=3","x":6,"y":11,"e":3},{"r":"u","c":"o","s":"=3","x":7,"y":10,"e":3},{"r":"u","c":"o","s":"=3","x":8,"y":12,"e":3},{"r":"u","c":"o","s":"=3","x":9,"y":11.5,"e":3},{"r":"u","c":"o","s":"=3","x":10,"y":13,"e":3},{"r":"u","c":"o","s":"=3","x":11,"y":12,"e":3},{"r":"u","c":"o","s":"=3","x":12,"y":14,"e":3},{"r":"u","c":"o","s":"=3","x":13,"y":13,"e":3},{"r":"u","c":"o","s":"=3","x":14,"y":15,"e":3},{"r":"u","c":"o","s":"=3","x":15,"y":14,"e":3},{"r":"u","c":"o","s":"=3","x":16,"y":16,"e":3},{"r":"u","c":"o","s":"=3","x":17,"y":17,"e":3},{"r":"u","c":"o","s":"=3","x":18,"y":18,"e":3},{"r":"u","c":"o","s":"=3","x":19,"y":17,"e":3},{"r":"u","c":"o","s":"=3","x":20,"y":17,"e":3},
{"r":"u","c":"o","s":"=5","x":0,"y":0,"e":0},{"r":"u","c":"o","s":"=5","x":1,"y":4.5,"e":2},{"r":"u","c":"o","s":"=5","x":2,"y":8,"e":2},{"r":"u","c":"o","s":"=5","x":3,"y":9,"e":2},{"r":"u","c":"o","s":"=5","x":4,"y":10,"e":2},{"r":"u","c":"o","s":"=5","x":5,"y":9.5,"e":2},{"r":"u","c":"o","s":"=5","x":6,"y":11,"e":2},{"r":"u","c":"o","s":"=5","x":7,"y":10.5,"e":2},{"r":"u","c":"o","s":"=5","x":8,"y":10,"e":2},{"r":"u","c":"o","s":"=5","x":9,"y":11.5,"e":2},{"r":"u","c":"o","s":"=5","x":10,"y":10,"e":2},{"r":"u","c":"o","s":"=5","x":11,"y":11,"e":2},{"r":"u","c":"o","s":"=5","x":12,"y":12,"e":2},{"r":"u","c":"o","s":"=5","x":13,"y":10.5,"e":2},{"r":"u","c":"o","s":"=5","x":14,"y":11,"e":2},{"r":"u","c":"o","s":"=5","x":15,"y":12,"e":2},{"r":"u","c":"o","s":"=5","x":16,"y":10,"e":2},{"r":"u","c":"o","s":"=5","x":17,"y":11,"e":2},{"r":"u","c":"o","s":"=5","x":18,"y":12,"e":2},{"r":"u","c":"o","s":"=5","x":19,"y":10.5,"e":2},{"r":"u","c":"o","s":"=5","x":20,"y":11,"e":2},
{"r":"u","c":"i","s":"false","x":0,"y":0,"e":0},{"r":"u","c":"i","s":"false","x":1,"y":1,"e":2.5},{"r":"u","c":"i","s":"false","x":2,"y":2,"e":2.5},{"r":"u","c":"i","s":"false","x":3,"y":3,"e":2.5},{"r":"u","c":"i","s":"false","x":4,"y":5,"e":2.5},{"r":"u","c":"i","s":"false","x":5,"y":8,"e":2.5},{"r":"u","c":"i","s":"false","x":6,"y":10,"e":2.5},{"r":"u","c":"i","s":"false","x":7,"y":11,"e":2.5},{"r":"u","c":"i","s":"false","x":8,"y":12,"e":2.5},{"r":"u","c":"i","s":"false","x":9,"y":11.5,"e":2.5},{"r":"u","c":"i","s":"false","x":10,"y":13,"e":2.5},{"r":"u","c":"i","s":"false","x":11,"y":12.5,"e":2.5},{"r":"u","c":"i","s":"false","x":12,"y":14,"e":2.5},{"r":"u","c":"i","s":"false","x":13,"y":13.5,"e":2.5},{"r":"u","c":"i","s":"false","x":14,"y":17,"e":2.5},{"r":"u","c":"i","s":"false","x":15,"y":15,"e":2.5},{"r":"u","c":"i","s":"false","x":16,"y":16,"e":2.5},{"r":"u","c":"i","s":"false","x":17,"y":14,"e":2.5},{"r":"u","c":"i","s":"false","x":18,"y":15.5,"e":2.5},{"r":"u","c":"i","s":"false","x":19,"y":14,"e":2.5},{"r":"u","c":"i","s":"false","x":20,"y":15,"e":2.5},
{"r":"u","c":"i","s":"true","x":0,"y":0,"e":0},{"r":"u","c":"i","s":"true","x":1,"y":4,"e":2},{"r":"u","c":"i","s":"true","x":2,"y":7,"e":2},{"r":"u","c":"i","s":"true","x":3,"y":8.5,"e":2},{"r":"u","c":"i","s":"true","x":4,"y":9,"e":2},{"r":"u","c":"i","s":"true","x":5,"y":10,"e":2},{"r":"u","c":"i","s":"true","x":6,"y":10.5,"e":2},{"r":"u","c":"i","s":"true","x":7,"y":11,"e":2},{"r":"u","c":"i","s":"true","x":8,"y":10,"e":2},{"r":"u","c":"i","s":"true","x":9,"y":11.5,"e":2},{"r":"u","c":"i","s":"true","x":10,"y":10.5,"e":2},{"r":"u","c":"i","s":"true","x":11,"y":12,"e":2},{"r":"u","c":"i","s":"true","x":12,"y":11,"e":2},{"r":"u","c":"i","s":"true","x":13,"y":10,"e":2},{"r":"u","c":"i","s":"true","x":14,"y":11.5,"e":2},{"r":"u","c":"i","s":"true","x":15,"y":10,"e":2},{"r":"u","c":"i","s":"true","x":16,"y":11,"e":2},{"r":"u","c":"i","s":"true","x":17,"y":10.5,"e":2},{"r":"u","c":"i","s":"true","x":18,"y":11,"e":2},{"r":"u","c":"i","s":"true","x":19,"y":10,"e":2},{"r":"u","c":"i","s":"true","x":20,"y":10.5,"e":2},
{"r":"u","c":"r","s":"true","x":0,"y":0,"e":0},{"r":"u","c":"r","s":"true","x":1,"y":3,"e":2},{"r":"u","c":"r","s":"true","x":2,"y":6,"e":2},{"r":"u","c":"r","s":"true","x":3,"y":8,"e":2},{"r":"u","c":"r","s":"true","x":4,"y":9,"e":2},{"r":"u","c":"r","s":"true","x":5,"y":9.5,"e":2},{"r":"u","c":"r","s":"true","x":6,"y":10,"e":2},{"r":"u","c":"r","s":"true","x":7,"y":10.5,"e":2},{"r":"u","c":"r","s":"true","x":8,"y":10,"e":2},{"r":"u","c":"r","s":"true","x":9,"y":11,"e":2},{"r":"u","c":"r","s":"true","x":10,"y":10.5,"e":2},{"r":"u","c":"r","s":"true","x":11,"y":10,"e":2},{"r":"u","c":"r","s":"true","x":12,"y":11,"e":2},{"r":"u","c":"r","s":"true","x":13,"y":10.5,"e":2},{"r":"u","c":"r","s":"true","x":14,"y":10,"e":2},{"r":"u","c":"r","s":"true","x":15,"y":11,"e":2},{"r":"u","c":"r","s":"true","x":16,"y":10,"e":2},{"r":"u","c":"r","s":"true","x":17,"y":10.5,"e":2},{"r":"u","c":"r","s":"true","x":18,"y":11,"e":2},{"r":"u","c":"r","s":"true","x":19,"y":10,"e":2},{"r":"u","c":"r","s":"true","x":20,"y":10.5,"e":2},
{"r":"u","c":"r","s":"false","x":0,"y":0,"e":0},{"r":"u","c":"r","s":"false","x":1,"y":1,"e":2.5},{"r":"u","c":"r","s":"false","x":2,"y":3,"e":2.5},{"r":"u","c":"r","s":"false","x":3,"y":5.5,"e":2.5},{"r":"u","c":"r","s":"false","x":4,"y":7.5,"e":2.5},{"r":"u","c":"r","s":"false","x":5,"y":8.5,"e":2.5},{"r":"u","c":"r","s":"false","x":6,"y":9,"e":2.5},{"r":"u","c":"r","s":"false","x":7,"y":9.5,"e":2.5},{"r":"u","c":"r","s":"false","x":8,"y":10,"e":2.5},{"r":"u","c":"r","s":"false","x":9,"y":10.5,"e":2.5},{"r":"u","c":"r","s":"false","x":10,"y":10,"e":2.5},{"r":"u","c":"r","s":"false","x":11,"y":11,"e":2.5},{"r":"u","c":"r","s":"false","x":12,"y":10,"e":2.5},{"r":"u","c":"r","s":"false","x":13,"y":10.5,"e":2.5},{"r":"u","c":"r","s":"false","x":14,"y":9.5,"e":2.5},{"r":"u","c":"r","s":"false","x":15,"y":10,"e":2.5},{"r":"u","c":"r","s":"false","x":16,"y":10.5,"e":2.5},{"r":"u","c":"r","s":"false","x":17,"y":9.5,"e":2.5},{"r":"u","c":"r","s":"false","x":18,"y":9,"e":2.5},{"r":"u","c":"r","s":"false","x":19,"y":8,"e":2.5},{"r":"u","c":"r","s":"false","x":20,"y":8.5,"e":2.5},
{"r":"u","c":"d","s":"2^2","x":0,"y":0,"e":0},{"r":"u","c":"d","s":"2^2","x":1,"y":0.1,"e":0.1},{"r":"u","c":"d","s":"2^2","x":2,"y":0.1,"e":0.1},{"r":"u","c":"d","s":"2^2","x":3,"y":0.1,"e":0.1},{"r":"u","c":"d","s":"2^2","x":4,"y":0.1,"e":0.1},{"r":"u","c":"d","s":"2^2","x":5,"y":0.1,"e":0.1},{"r":"u","c":"d","s":"2^2","x":6,"y":0.1,"e":0.1},{"r":"u","c":"d","s":"2^2","x":7,"y":0.1,"e":0.1},{"r":"u","c":"d","s":"2^2","x":8,"y":0.1,"e":0.1},{"r":"u","c":"d","s":"2^2","x":9,"y":0.1,"e":0.1},{"r":"u","c":"d","s":"2^2","x":10,"y":0.1,"e":0.1},{"r":"u","c":"d","s":"2^2","x":11,"y":0.1,"e":0.1},{"r":"u","c":"d","s":"2^2","x":12,"y":0.1,"e":0.1},{"r":"u","c":"d","s":"2^2","x":13,"y":0.1,"e":0.1},{"r":"u","c":"d","s":"2^2","x":14,"y":0.1,"e":0.1},{"r":"u","c":"d","s":"2^2","x":15,"y":0.1,"e":0.1},{"r":"u","c":"d","s":"2^2","x":16,"y":0.1,"e":0.1},{"r":"u","c":"d","s":"2^2","x":17,"y":0.1,"e":0.1},{"r":"u","c":"d","s":"2^2","x":18,"y":0.1,"e":0.1},{"r":"u","c":"d","s":"2^2","x":19,"y":0.1,"e":0.1},{"r":"u","c":"d","s":"2^2","x":20,"y":0.1,"e":0.1},
{"r":"u","c":"d","s":"2^4","x":0,"y":0,"e":0},{"r":"u","c":"d","s":"2^4","x":1,"y":0.2,"e":0.2},{"r":"u","c":"d","s":"2^4","x":2,"y":0.3,"e":0.2},{"r":"u","c":"d","s":"2^4","x":3,"y":0.4,"e":0.2},{"r":"u","c":"d","s":"2^4","x":4,"y":0.4,"e":0.2},{"r":"u","c":"d","s":"2^4","x":5,"y":0.5,"e":0.2},{"r":"u","c":"d","s":"2^4","x":6,"y":0.5,"e":0.2},{"r":"u","c":"d","s":"2^4","x":7,"y":0.5,"e":0.2},{"r":"u","c":"d","s":"2^4","x":8,"y":0.5,"e":0.2},{"r":"u","c":"d","s":"2^4","x":9,"y":0.6,"e":0.2},{"r":"u","c":"d","s":"2^4","x":10,"y":0.6,"e":0.2},{"r":"u","c":"d","s":"2^4","x":11,"y":0.6,"e":0.2},{"r":"u","c":"d","s":"2^4","x":12,"y":0.6,"e":0.2},{"r":"u","c":"d","s":"2^4","x":13,"y":0.6,"e":0.2},{"r":"u","c":"d","s":"2^4","x":14,"y":0.6,"e":0.2},{"r":"u","c":"d","s":"2^4","x":15,"y":0.7,"e":0.2},{"r":"u","c":"d","s":"2^4","x":16,"y":0.7,"e":0.2},{"r":"u","c":"d","s":"2^4","x":17,"y":0.7,"e":0.2},{"r":"u","c":"d","s":"2^4","x":18,"y":0.7,"e":0.2},{"r":"u","c":"d","s":"2^4","x":19,"y":0.7,"e":0.2},{"r":"u","c":"d","s":"2^4","x":20,"y":0.7,"e":0.2},
{"r":"u","c":"d","s":"2^6","x":0,"y":0,"e":0},{"r":"u","c":"d","s":"2^6","x":1,"y":0.5,"e":0.5},{"r":"u","c":"d","s":"2^6","x":2,"y":1,"e":0.5},{"r":"u","c":"d","s":"2^6","x":3,"y":1.2,"e":0.5},{"r":"u","c":"d","s":"2^6","x":4,"y":1.4,"e":0.5},{"r":"u","c":"d","s":"2^6","x":5,"y":1.5,"e":0.5},{"r":"u","c":"d","s":"2^6","x":6,"y":1.7,"e":0.5},{"r":"u","c":"d","s":"2^6","x":7,"y":1.8,"e":0.5},{"r":"u","c":"d","s":"2^6","x":8,"y":2,"e":0.5},{"r":"u","c":"d","s":"2^6","x":9,"y":2,"e":0.5},{"r":"u","c":"d","s":"2^6","x":10,"y":2.2,"e":0.5},{"r":"u","c":"d","s":"2^6","x":11,"y":2.3,"e":0.5},{"r":"u","c":"d","s":"2^6","x":12,"y":2.4,"e":0.5},{"r":"u","c":"d","s":"2^6","x":13,"y":2.5,"e":0.5},{"r":"u","c":"d","s":"2^6","x":14,"y":2.6,"e":0.5},{"r":"u","c":"d","s":"2^6","x":15,"y":2.7,"e":0.5},{"r":"u","c":"d","s":"2^6","x":16,"y":2.8,"e":0.5},{"r":"u","c":"d","s":"2^6","x":17,"y":2.9,"e":0.5},{"r":"u","c":"d","s":"2^6","x":18,"y":3,"e":0.5},{"r":"u","c":"d","s":"2^6","x":19,"y":3.1,"e":0.5},{"r":"u","c":"d","s":"2^6","x":20,"y":3.2,"e":0.5},
{"r":"u","c":"d","s":"2^8","x":0,"y":0,"e":0},{"r":"u","c":"d","s":"2^8","x":1,"y":5,"e":2.5},{"r":"u","c":"d","s":"2^8","x":2,"y":8,"e":2.5},{"r":"u","c":"d","s":"2^8","x":3,"y":10,"e":2.5},{"r":"u","c":"d","s":"2^8","x":4,"y":10.5,"e":2.5},{"r":"u","c":"d","s":"2^8","x":5,"y":11,"e":2.5},{"r":"u","c":"d","s":"2^8","x":6,"y":12,"e":2.5},{"r":"u","c":"d","s":"2^8","x":7,"y":12.5,"e":2.5},{"r":"u","c":"d","s":"2^8","x":8,"y":13,"e":2.5},{"r":"u","c":"d","s":"2^8","x":9,"y":14,"e":2.5},{"r":"u","c":"d","s":"2^8","x":10,"y":14.5,"e":2.5},{"r":"u","c":"d","s":"2^8","x":11,"y":15,"e":2.5},{"r":"u","c":"d","s":"2^8","x":12,"y":16,"e":2.5},{"r":"u","c":"d","s":"2^8","x":13,"y":15,"e":2.5},{"r":"u","c":"d","s":"2^8","x":14,"y":19,"e":2.5},{"r":"u","c":"d","s":"2^8","x":15,"y":17,"e":2.5},{"r":"u","c":"d","s":"2^8","x":16,"y":17.5,"e":2.5},{"r":"u","c":"d","s":"2^8","x":17,"y":16,"e":2.5},{"r":"u","c":"d","s":"2^8","x":18,"y":17.5,"e":2.5},{"r":"u","c":"d","s":"2^8","x":19,"y":18,"e":2.5},{"r":"u","c":"d","s":"2^8","x":20,"y":17,"e":2.5},
{"r":"u","c":"d","s":"all","x":0,"y":0,"e":0},{"r":"u","c":"d","s":"all","x":1,"y":4.5,"e":2},{"r":"u","c":"d","s":"all","x":2,"y":7,"e":2},{"r":"u","c":"d","s":"all","x":3,"y":8,"e":2},{"r":"u","c":"d","s":"all","x":4,"y":8.5,"e":2},{"r":"u","c":"d","s":"all","x":5,"y":9,"e":2},{"r":"u","c":"d","s":"all","x":6,"y":10,"e":2},{"r":"u","c":"d","s":"all","x":7,"y":9.5,"e":2},{"r":"u","c":"d","s":"all","x":8,"y":10,"e":2},{"r":"u","c":"d","s":"all","x":9,"y":10.5,"e":2},{"r":"u","c":"d","s":"all","x":10,"y":11,"e":2},{"r":"u","c":"d","s":"all","x":11,"y":9.5,"e":2},{"r":"u","c":"d","s":"all","x":12,"y":10.5,"e":2},{"r":"u","c":"d","s":"all","x":13,"y":10,"e":2},{"r":"u","c":"d","s":"all","x":14,"y":11,"e":2},{"r":"u","c":"d","s":"all","x":15,"y":10,"e":2},{"r":"u","c":"d","s":"all","x":16,"y":9.5,"e":2},{"r":"u","c":"d","s":"all","x":17,"y":10.5,"e":2},{"r":"u","c":"d","s":"all","x":18,"y":9.5,"e":2},{"r":"u","c":"d","s":"all","x":19,"y":10,"e":2},{"r":"u","c":"d","s":"all","x":20,"y":10,"e":2}
]},
"spacing":0,
"resolve":{"scale":{"color":"independent"},"legend":{"color":"independent"}},
"vconcat":[
{"spacing":3,"resolve":{"scale":{"color":"independent"},"legend":{"color":"independent"}},"hconcat":[
{"width":95,"height":81,"title":"#Observation","data":{"name":"d"},"transform":[{"filter":"datum.r==='t'&&datum.c==='o'"}],"layer":[
{"mark":{"type":"errorband","band":{"opacity":0.25}},"encoding":{"x":{"field":"x","type":"quantitative","scale":{"domain":[-1,21],"nice":false},"axis":null},"y":{"field":"y","type":"quantitative","scale":{"domain":[-4.2,80.2],"nice":false},"axis":{"title":"train","values":[0,25,50,75]}},"yError":{"field":"e"},"color":{"field":"s","type":"nominal","scale":{"domain":["=0","=1","=3","=5"],"range":["#4c72b0","#dd8452","#55a868","#c44e52"]},"legend":null}}},
{"mark":{"type":"line","strokeWidth":1.5},"encoding":{"x":{"field":"x","type":"quantitative","scale":{"domain":[-1,21],"nice":false},"axis":null},"y":{"field":"y","type":"quantitative","scale":{"domain":[-4.2,80.2],"nice":false},"axis":{"title":"train","values":[0,25,50,75]}},"color":{"field":"s","type":"nominal","scale":{"domain":["=0","=1","=3","=5"],"range":["#4c72b0","#dd8452","#55a868","#c44e52"]},"legend":null}}}]},
{"width":95,"height":81,"title":"Init Obs","data":{"name":"d"},"transform":[{"filter":"datum.r==='t'&&datum.c==='i'"}],"layer":[
{"mark":{"type":"errorband","band":{"opacity":0.25}},"encoding":{"x":{"field":"x","type":"quantitative","scale":{"domain":[-1,21],"nice":false},"axis":null},"y":{"field":"y","type":"quantitative","scale":{"domain":[-4.2,80.2],"nice":false},"axis":null},"yError":{"field":"e"},"color":{"field":"s","type":"nominal","scale":{"domain":["false","true"],"range":["#4c72b0","#dd8452"]},"legend":null}}},
{"mark":{"type":"line","strokeWidth":1.5},"encoding":{"x":{"field":"x","type":"quantitative","scale":{"domain":[-1,21],"nice":false},"axis":null},"y":{"field":"y","type":"quantitative","scale":{"domain":[-4.2,80.2],"nice":false},"axis":null},"color":{"field":"s","type":"nominal","scale":{"domain":["false","true"],"range":["#4c72b0","#dd8452"]},"legend":null}}}]},
{"width":95,"height":81,"title":"Recurrency","data":{"name":"d"},"transform":[{"filter":"datum.r==='t'&&datum.c==='r'"}],"layer":[
{"mark":{"type":"errorband","band":{"opacity":0.25}},"encoding":{"x":{"field":"x","type":"quantitative","scale":{"domain":[-1,21],"nice":false},"axis":null},"y":{"field":"y","type":"quantitative","scale":{"domain":[-4.2,80.2],"nice":false},"axis":null},"yError":{"field":"e"},"color":{"field":"s","type":"nominal","scale":{"domain":["true","false"],"range":["#4c72b0","#dd8452"]},"legend":null}}},
{"mark":{"type":"line","strokeWidth":1.5},"encoding":{"x":{"field":"x","type":"quantitative","scale":{"domain":[-1,21],"nice":false},"axis":null},"y":{"field":"y","type":"quantitative","scale":{"domain":[-4.2,80.2],"nice":false},"axis":null},"color":{"field":"s","type":"nominal","scale":{"domain":["true","false"],"range":["#4c72b0","#dd8452"]},"legend":null}}}]},
{"width":95,"height":81,"title":"#Train Data","data":{"name":"d"},"transform":[{"filter":"datum.r==='t'&&datum.c==='d'"}],"layer":[
{"mark":{"type":"errorband","band":{"opacity":0.25}},"encoding":{"x":{"field":"x","type":"quantitative","scale":{"domain":[-1,21],"nice":false},"axis":null},"y":{"field":"y","type":"quantitative","scale":{"domain":[-4.2,80.2],"nice":false},"axis":null},"yError":{"field":"e"},"color":{"field":"s","type":"nominal","scale":{"domain":["2^2","2^4","2^6","2^8","all"],"range":["#4c72b0","#dd8452","#55a868","#c44e52","#8172b3"]},"legend":null}}},
{"mark":{"type":"line","strokeWidth":1.5},"encoding":{"x":{"field":"x","type":"quantitative","scale":{"domain":[-1,21],"nice":false},"axis":null},"y":{"field":"y","type":"quantitative","scale":{"domain":[-4.2,80.2],"nice":false},"axis":null},"color":{"field":"s","type":"nominal","scale":{"domain":["2^2","2^4","2^6","2^8","all"],"range":["#4c72b0","#dd8452","#55a868","#c44e52","#8172b3"]},"legend":null}}}]}
]},
{"spacing":3,"resolve":{"scale":{"color":"independent"},"legend":{"color":"independent"}},"hconcat":[
{"width":95,"height":81,"data":{"name":"d"},"transform":[{"filter":"datum.r==='s'&&datum.c==='o'"}],"layer":[
{"mark":{"type":"errorband","band":{"opacity":0.25}},"encoding":{"x":{"field":"x","type":"quantitative","scale":{"domain":[-1,21],"nice":false},"axis":null},"y":{"field":"y","type":"quantitative","scale":{"domain":[-4.2,80.2],"nice":false},"axis":{"title":"seen","values":[0,25,50,75]}},"yError":{"field":"e"},"color":{"field":"s","type":"nominal","scale":{"domain":["=0","=1","=3","=5"],"range":["#4c72b0","#dd8452","#55a868","#c44e52"]},"legend":null}}},
{"mark":{"type":"line","strokeWidth":1.5},"encoding":{"x":{"field":"x","type":"quantitative","scale":{"domain":[-1,21],"nice":false},"axis":null},"y":{"field":"y","type":"quantitative","scale":{"domain":[-4.2,80.2],"nice":false},"axis":{"title":"seen","values":[0,25,50,75]}},"color":{"field":"s","type":"nominal","scale":{"domain":["=0","=1","=3","=5"],"range":["#4c72b0","#dd8452","#55a868","#c44e52"]},"legend":null}}}]},
{"width":95,"height":81,"data":{"name":"d"},"transform":[{"filter":"datum.r==='s'&&datum.c==='i'"}],"layer":[
{"mark":{"type":"errorband","band":{"opacity":0.25}},"encoding":{"x":{"field":"x","type":"quantitative","scale":{"domain":[-1,21],"nice":false},"axis":null},"y":{"field":"y","type":"quantitative","scale":{"domain":[-4.2,80.2],"nice":false},"axis":null},"yError":{"field":"e"},"color":{"field":"s","type":"nominal","scale":{"domain":["false","true"],"range":["#4c72b0","#dd8452"]},"legend":null}}},
{"mark":{"type":"line","strokeWidth":1.5},"encoding":{"x":{"field":"x","type":"quantitative","scale":{"domain":[-1,21],"nice":false},"axis":null},"y":{"field":"y","type":"quantitative","scale":{"domain":[-4.2,80.2],"nice":false},"axis":null},"color":{"field":"s","type":"nominal","scale":{"domain":["false","true"],"range":["#4c72b0","#dd8452"]},"legend":null}}}]},
{"width":95,"height":81,"data":{"name":"d"},"transform":[{"filter":"datum.r==='s'&&datum.c==='r'"}],"layer":[
{"mark":{"type":"errorband","band":{"opacity":0.25}},"encoding":{"x":{"field":"x","type":"quantitative","scale":{"domain":[-1,21],"nice":false},"axis":null},"y":{"field":"y","type":"quantitative","scale":{"domain":[-4.2,80.2],"nice":false},"axis":null},"yError":{"field":"e"},"color":{"field":"s","type":"nominal","scale":{"domain":["true","false"],"range":["#4c72b0","#dd8452"]},"legend":null}}},
{"mark":{"type":"line","strokeWidth":1.5},"encoding":{"x":{"field":"x","type":"quantitative","scale":{"domain":[-1,21],"nice":false},"axis":null},"y":{"field":"y","type":"quantitative","scale":{"domain":[-4.2,80.2],"nice":false},"axis":null},"color":{"field":"s","type":"nominal","scale":{"domain":["true","false"],"range":["#4c72b0","#dd8452"]},"legend":null}}}]},
{"width":95,"height":81,"data":{"name":"d"},"transform":[{"filter":"datum.r==='s'&&datum.c==='d'"}],"layer":[
{"mark":{"type":"errorband","band":{"opacity":0.25}},"encoding":{"x":{"field":"x","type":"quantitative","scale":{"domain":[-1,21],"nice":false},"axis":null},"y":{"field":"y","type":"quantitative","scale":{"domain":[-4.2,80.2],"nice":false},"axis":null},"yError":{"field":"e"},"color":{"field":"s","type":"nominal","scale":{"domain":["2^2","2^4","2^6","2^8","all"],"range":["#4c72b0","#dd8452","#55a868","#c44e52","#8172b3"]},"legend":null}}},
{"mark":{"type":"line","strokeWidth":1.5},"encoding":{"x":{"field":"x","type":"quantitative","scale":{"domain":[-1,21],"nice":false},"axis":null},"y":{"field":"y","type":"quantitative","scale":{"domain":[-4.2,80.2],"nice":false},"axis":null},"color":{"field":"s","type":"nominal","scale":{"domain":["2^2","2^4","2^6","2^8","all"],"range":["#4c72b0","#dd8452","#55a868","#c44e52","#8172b3"]},"legend":null}}}]}
]},
{"spacing":3,"resolve":{"scale":{"color":"independent"},"legend":{"color":"independent"}},"hconcat":[
{"width":95,"height":81,"data":{"name":"d"},"transform":[{"filter":"datum.r==='u'&&datum.c==='o'"}],"layer":[
{"mark":{"type":"errorband","band":{"opacity":0.25}},"encoding":{"x":{"field":"x","type":"quantitative","scale":{"domain":[-1,21],"nice":false},"axis":null},"y":{"field":"y","type":"quantitative","scale":{"domain":[-4.2,80.2],"nice":false},"axis":{"title":"unseen","values":[0,25,50,75]}},"yError":{"field":"e"},"color":{"field":"s","type":"nominal","scale":{"domain":["=0","=1","=3","=5"],"range":["#4c72b0","#dd8452","#55a868","#c44e52"]},"legend":{"title":null,"orient":"top-right"}}}},
{"mark":{"type":"line","strokeWidth":1.5},"encoding":{"x":{"field":"x","type":"quantitative","scale":{"domain":[-1,21],"nice":false},"axis":null},"y":{"field":"y","type":"quantitative","scale":{"domain":[-4.2,80.2],"nice":false},"axis":{"title":"unseen","values":[0,25,50,75]}},"color":{"field":"s","type":"nominal","scale":{"domain":["=0","=1","=3","=5"],"range":["#4c72b0","#dd8452","#55a868","#c44e52"]},"legend":{"title":null,"orient":"top-right"}}}}]},
{"width":95,"height":81,"data":{"name":"d"},"transform":[{"filter":"datum.r==='u'&&datum.c==='i'"}],"layer":[
{"mark":{"type":"errorband","band":{"opacity":0.25}},"encoding":{"x":{"field":"x","type":"quantitative","scale":{"domain":[-1,21],"nice":false},"axis":null},"y":{"field":"y","type":"quantitative","scale":{"domain":[-4.2,80.2],"nice":false},"axis":null},"yError":{"field":"e"},"color":{"field":"s","type":"nominal","scale":{"domain":["false","true"],"range":["#4c72b0","#dd8452"]},"legend":{"title":null,"orient":"top-right"}}}},
{"mark":{"type":"line","strokeWidth":1.5},"encoding":{"x":{"field":"x","type":"quantitative","scale":{"domain":[-1,21],"nice":false},"axis":null},"y":{"field":"y","type":"quantitative","scale":{"domain":[-4.2,80.2],"nice":false},"axis":null},"color":{"field":"s","type":"nominal","scale":{"domain":["false","true"],"range":["#4c72b0","#dd8452"]},"legend":{"title":null,"orient":"top-right"}}}}]},
{"width":95,"height":81,"data":{"name":"d"},"transform":[{"filter":"datum.r==='u'&&datum.c==='r'"}],"layer":[
{"mark":{"type":"errorband","band":{"opacity":0.25}},"encoding":{"x":{"field":"x","type":"quantitative","scale":{"domain":[-1,21],"nice":false},"axis":null},"y":{"field":"y","type":"quantitative","scale":{"domain":[-4.2,80.2],"nice":false},"axis":null},"yError":{"field":"e"},"color":{"field":"s","type":"nominal","scale":{"domain":["true","false"],"range":["#4c72b0","#dd8452"]},"legend":{"title":null,"orient":"top-right"}}}},
{"mark":{"type":"line","strokeWidth":1.5},"encoding":{"x":{"field":"x","type":"quantitative","scale":{"domain":[-1,21],"nice":false},"axis":null},"y":{"field":"y","type":"quantitative","scale":{"domain":[-4.2,80.2],"nice":false},"axis":null},"color":{"field":"s","type":"nominal","scale":{"domain":["true","false"],"range":["#4c72b0","#dd8452"]},"legend":{"title":null,"orient":"top-right"}}}}]},
{"width":95,"height":81,"data":{"name":"d"},"transform":[{"filter":"datum.r==='u'&&datum.c==='d'"}],"layer":[
{"mark":{"type":"errorband","band":{"opacity":0.25}},"encoding":{"x":{"field":"x","type":"quantitative","scale":{"domain":[-1,21],"nice":false},"axis":null},"y":{"field":"y","type":"quantitative","scale":{"domain":[-4.2,80.2],"nice":false},"axis":null},"yError":{"field":"e"},"color":{"field":"s","type":"nominal","scale":{"domain":["2^2","2^4","2^6","2^8","all"],"range":["#4c72b0","#dd8452","#55a868","#c44e52","#8172b3"]},"legend":{"title":null,"orient":"top-left"}}}},
{"mark":{"type":"line","strokeWidth":1.5},"encoding":{"x":{"field":"x","type":"quantitative","scale":{"domain":[-1,21],"nice":false},"axis":null},"y":{"field":"y","type":"quantitative","scale":{"domain":[-4.2,80.2],"nice":false},"axis":null},"color":{"field":"s","type":"nominal","scale":{"domain":["2^2","2^4","2^6","2^8","all"],"range":["#4c72b0","#dd8452","#55a868","#c44e52","#8172b3"]},"legend":{"title":null,"orient":"top-left"}}}}]}
]}
]
}
